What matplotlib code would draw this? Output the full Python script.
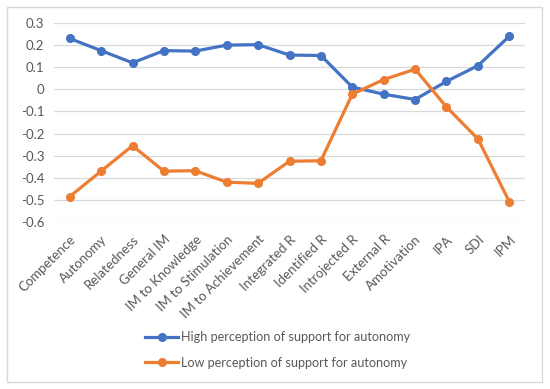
import matplotlib
matplotlib.use("Agg")
import matplotlib.pyplot as plt
from matplotlib.patches import Rectangle

categories = ["Competence", "Autonomy", "Relatedness", "General IM", "IM to Knowledge",
              "IM to Stimulation", "IM to Achievement", "Integrated R", "Identified R",
              "Introjected R", "External R", "Amotivation", "IPA", "SDI", "IPM"]
high = [0.23, 0.175, 0.12, 0.175, 0.173, 0.2, 0.202, 0.155, 0.153, 0.01, -0.022, -0.046, 0.036, 0.107, 0.24]
low = [-0.485, -0.37, -0.255, -0.37, -0.368, -0.42, -0.425, -0.325, -0.323, -0.022, 0.044, 0.091, -0.08, -0.224, -0.508]
yticks = [0.3, 0.2, 0.1, 0, -0.1, -0.2, -0.3, -0.4, -0.5, -0.6]
ylabels = ["0.3", "0.2", "0.1", "0", "-0.1", "-0.2", "-0.3", "-0.4", "-0.5", "-0.6"]

plt.rcParams['font.family'] = ['Lato', 'DejaVu Sans']
txt = "#595959"

fig = plt.figure(figsize=(5.5, 3.89), dpi=100)
ax = fig.add_axes([54/550, 1-222/389, 471/550, (222-23)/389])
x = list(range(len(categories)))
l1, = ax.plot(x, high, color="#4472C4", lw=2.3, marker="o", ms=5.5, label="High perception of support for autonomy", zorder=3)
l2, = ax.plot(x, low, color="#ED7D31", lw=2.3, marker="o", ms=5.5, label="Low perception of support for autonomy", zorder=3)
ax.set_xlim(-0.5, len(categories)-0.5)
ax.set_ylim(-0.6, 0.3)
ax.set_yticks(yticks)
ax.set_yticklabels(ylabels, color=txt, fontsize=9.5)
ax.set_xticks(x)
ax.set_xticklabels(categories, rotation=45, ha="right", rotation_mode="anchor", color=txt, fontsize=9.5)
ax.grid(axis="y", color="#D9D9D9", lw=0.9)
ax.set_axisbelow(True)
for s in ax.spines.values():
    s.set_visible(False)
ax.tick_params(length=0, pad=7)
ax.tick_params(axis="x", pad=8)

fig.legend(handles=[l1, l2], loc="center", bbox_to_anchor=(0.505, 1-350/389), frameon=False,
           fontsize=9.1, labelcolor=txt, handlelength=2.6, handletextpad=0.2, labelspacing=1.05)

fig.patches.append(Rectangle((7/550, 1-382/389), (542-7)/550, (382-7)/389, transform=fig.transFigure,
                             fill=False, edgecolor="#D9D9D9", lw=1))
fig.savefig("out.png", dpi=100)
